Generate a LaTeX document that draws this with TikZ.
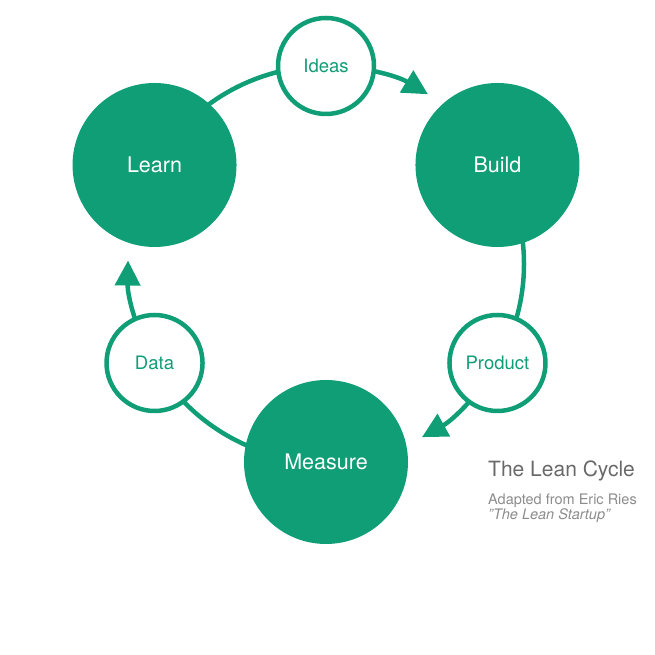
\documentclass[tikz,border=0pt]{standalone}
\usepackage{fontspec}
\setmainfont{TeX Gyre Heros}
\usetikzlibrary{arrows.meta,backgrounds}
\definecolor{leangreen}{RGB}{16,158,118}
\definecolor{titlegray}{RGB}{105,105,105}
\definecolor{subgray}{RGB}{140,140,140}
\begin{document}
\begin{tikzpicture}[x=1pt,y=1pt,
  bigstage/.style={circle,fill=leangreen,minimum size=164pt,inner sep=0pt,text=white,font=\fontsize{21.5}{24}\selectfont},
  smallstage/.style={circle,draw=leangreen,line width=4.5pt,fill=white,minimum size=96pt,inner sep=0pt,text=leangreen,font=\fontsize{18.5}{22}\selectfont},
  cycleline/.style={draw=leangreen,line width=4.5pt},
  cyclearrow/.style={cycleline,-{Triangle[length=25pt,width=25pt]}},
  titletext/.style={anchor=base west,inner sep=0pt,text=titlegray,font=\fontsize{21}{24}\selectfont},
  subtext/.style={anchor=base west,inner sep=0pt,text=subgray,font=\fontsize{14.5}{17}\selectfont}]
\useasboundingbox (0,0) rectangle (655,655);
\coordinate (cyc) at (326,391);
\node[smallstage] (ideas)   at ([shift={(90:198)}]cyc)  {Ideas};
\node[bigstage]   (build)   at ([shift={(30:198)}]cyc)  {Build};
\node[smallstage] (product) at ([shift={(-30:198)}]cyc) {Product};
\node[bigstage]   (measure) at ([shift={(-90:198)}]cyc) {Measure};
\node[smallstage] (data)    at ([shift={(210:198)}]cyc) {Data};
\node[bigstage]   (learn)   at ([shift={(150:198)}]cyc) {Learn};
\begin{pgfonlayer}{background}
  \draw[cycleline]  (learn.center)   arc[start angle=150,end angle=90,radius=198];
  \draw[cyclearrow] (ideas.center)   arc[start angle=90,end angle=59,radius=198];
  \draw[cycleline]  (build.center)   arc[start angle=30,end angle=-30,radius=198];
  \draw[cyclearrow] (product.center) arc[start angle=-30,end angle=-61,radius=198];
  \draw[cycleline]  (measure.center) arc[start angle=270,end angle=210,radius=198];
  \draw[cyclearrow] (data.center)    arc[start angle=210,end angle=179,radius=198];
\end{pgfonlayer}
\node[titletext] (title) at (488,178) {The Lean Cycle};
\node[subtext] (credit) at (488,150) {Adapted from Eric Ries};
\node[subtext] (book) at (488,135) {\itshape "The Lean Startup"};
\end{tikzpicture}
\end{document}
